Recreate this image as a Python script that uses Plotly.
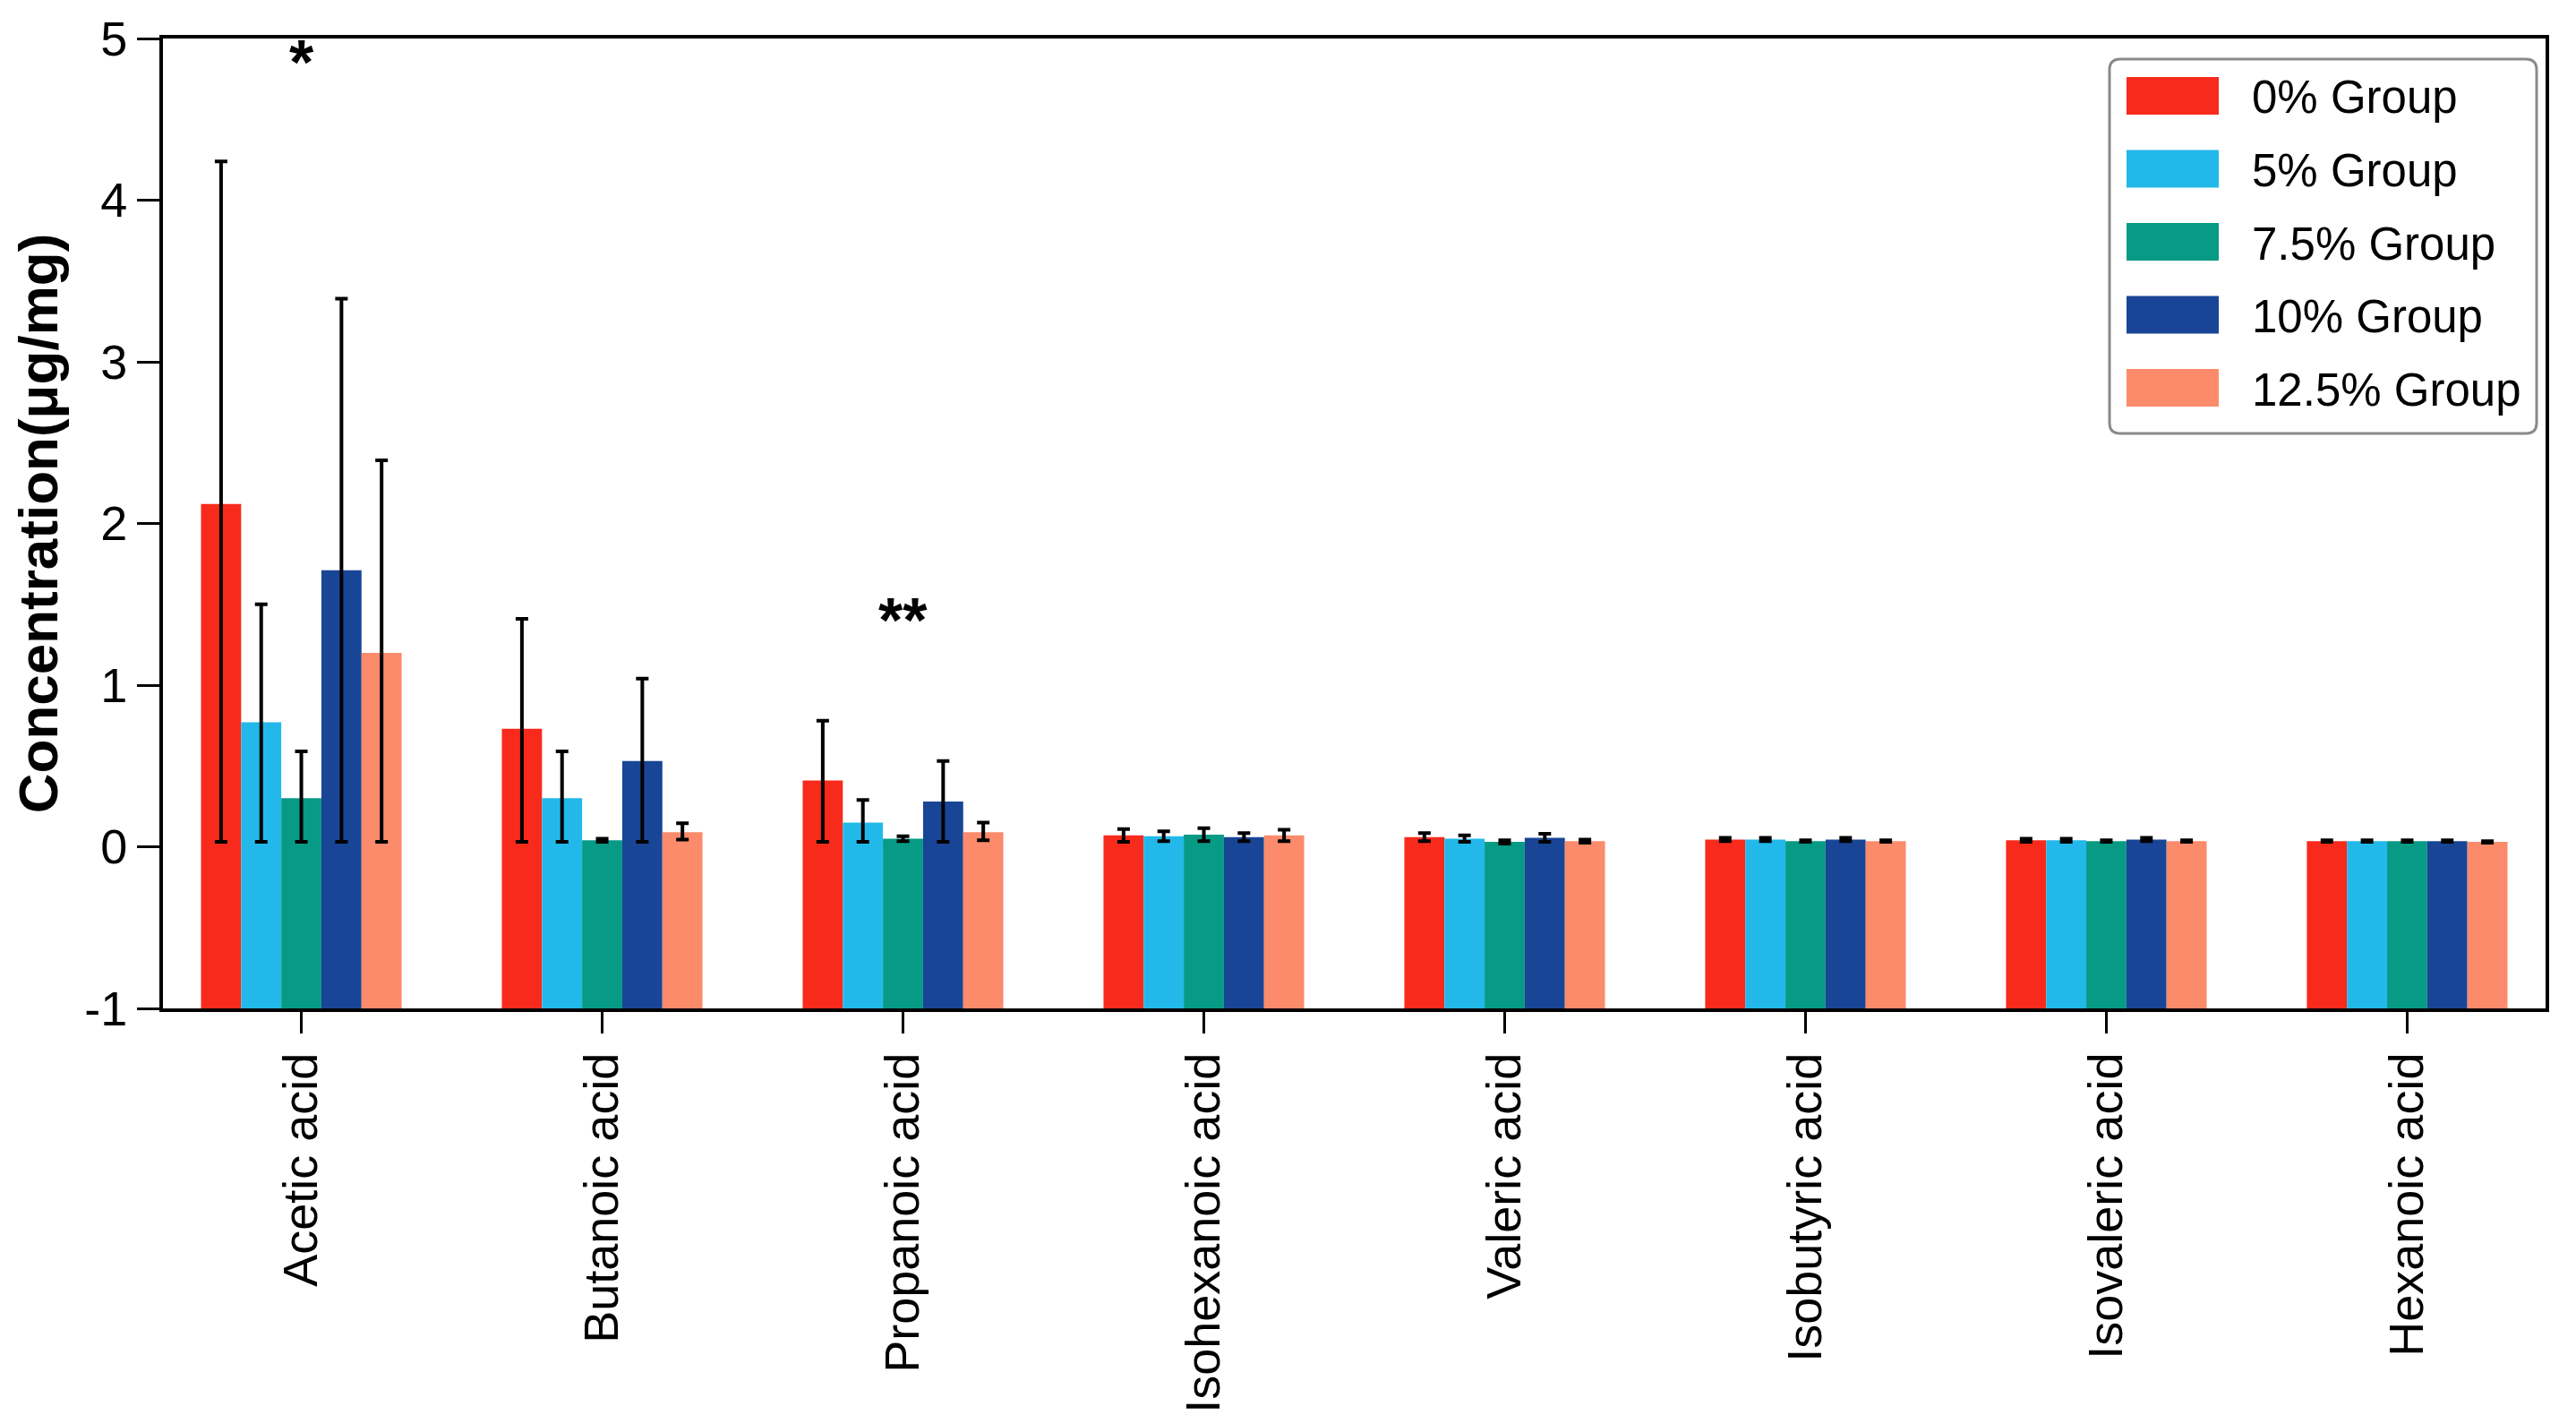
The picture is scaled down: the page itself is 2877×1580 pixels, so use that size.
import plotly.graph_objects as go

categories = ["Acetic acid", "Butanoic acid", "Propanoic acid", "Isohexanoic acid",
              "Valeric acid", "Isobutyric acid", "Isovaleric acid", "Hexanoic acid"]
groups = ["0% Group", "5% Group", "7.5% Group", "10% Group", "12.5% Group"]
colors = ["#F82A1C", "#22B9EA", "#079A85", "#194596", "#FC8B6B"]

vals_0 = [2.12, 0.73, 0.41, 0.07, 0.06, 0.045, 0.04, 0.035]
up_0 = [2.12, 0.68, 0.37, 0.04, 0.025, 0.01, 0.01, 0.005]
lo_0 = [2.09, 0.70, 0.38, 0.04, 0.025, 0.01, 0.01, 0.005]

vals_5 = [0.77, 0.30, 0.15, 0.065, 0.05, 0.045, 0.04, 0.035]
up_5 = [0.73, 0.29, 0.14, 0.03, 0.02, 0.01, 0.01, 0.005]
lo_5 = [0.74, 0.27, 0.12, 0.03, 0.02, 0.01, 0.01, 0.005]

vals_75 = [0.30, 0.04, 0.05, 0.075, 0.03, 0.035, 0.035, 0.035]
up_75 = [0.29, 0.01, 0.015, 0.04, 0.01, 0.005, 0.005, 0.005]
lo_75 = [0.27, 0.01, 0.015, 0.04, 0.01, 0.005, 0.005, 0.005]

vals_10 = [1.71, 0.53, 0.28, 0.06, 0.055, 0.045, 0.045, 0.035]
up_10 = [1.68, 0.51, 0.25, 0.025, 0.025, 0.01, 0.01, 0.005]
lo_10 = [1.68, 0.50, 0.25, 0.025, 0.025, 0.01, 0.01, 0.005]

vals_125 = [1.20, 0.09, 0.09, 0.07, 0.035, 0.035, 0.035, 0.03]
up_125 = [1.19, 0.055, 0.06, 0.035, 0.01, 0.005, 0.005, 0.005]
lo_125 = [1.17, 0.045, 0.05, 0.035, 0.01, 0.005, 0.005, 0.005]

sig_labels = ["*", "**"]
sig_cats = ["Acetic acid", "Propanoic acid"]
sig_y = [4.85, 1.40]

y_ticks = [-1, 0, 1, 2, 3, 4, 5]
bar_base = -1  # bars are drawn up from the bottom of the axis

series_vals = [vals_0, vals_5, vals_75, vals_10, vals_125]
series_up = [up_0, up_5, up_75, up_10, up_125]
series_lo = [lo_0, lo_5, lo_75, lo_10, lo_125]

FONT = "Liberation Sans, Arial, sans-serif"
W, H = 2877, 1580
ML, MR, MT, MB = 174, 42, 35, 462
PW, PH = W - ML - MR, H - MT - MB

fig = go.Figure()
for name, col, v, u, l in zip(groups, colors, series_vals, series_up, series_lo):
    fig.add_trace(go.Bar(
        x=categories, y=[val - bar_base for val in v], base=bar_base, name=name,
        customdata=v, hovertemplate="%{x}: %{customdata}<extra>" + name + "</extra>",
        marker=dict(color=col, line=dict(width=0)),
        error_y=dict(type="data", symmetric=False, array=u, arrayminus=l,
                     color="black", thickness=4, width=7),
        showlegend=False,
    ))

for lab, c, yv in zip(sig_labels, sig_cats, sig_y):
    fig.add_annotation(x=c, y=yv, xref="x", yref="y", text="<b>" + lab + "</b>", showarrow=False,
                       font=dict(family=FONT, size=70, color="black"), yanchor="middle")

# custom legend (pixel layout converted to paper coordinates)
def px_x(px):
    return (px - ML) / PW

def px_y(py):
    return (H - MB - py) / PH

bx1 = W - MR - 10
bx0 = bx1 - 477
by0, by1, r = 58, 476, 12
path = (f"M {px_x(bx0 + r)},{px_y(by0)} L {px_x(bx1 - r)},{px_y(by0)} "
        f"Q {px_x(bx1)},{px_y(by0)} {px_x(bx1)},{px_y(by0 + r)} "
        f"L {px_x(bx1)},{px_y(by1 - r)} Q {px_x(bx1)},{px_y(by1)} {px_x(bx1 - r)},{px_y(by1)} "
        f"L {px_x(bx0 + r)},{px_y(by1)} Q {px_x(bx0)},{px_y(by1)} {px_x(bx0)},{px_y(by1 - r)} "
        f"L {px_x(bx0)},{px_y(by0 + r)} Q {px_x(bx0)},{px_y(by0)} {px_x(bx0 + r)},{px_y(by0)} Z")
fig.add_shape(type="path", path=path, xref="paper", yref="paper",
              line=dict(color="#8a8a8a", width=3), fillcolor="white", layer="above")
row0, dy = 99, 81.5
for i, (name, col) in enumerate(zip(groups, colors)):
    cy = row0 + i * dy
    fig.add_shape(type="rect", xref="paper", yref="paper",
                  x0=px_x(bx0 + 19), x1=px_x(bx0 + 122), y0=px_y(cy - 21), y1=px_y(cy + 21),
                  fillcolor=col, line=dict(width=0), layer="above")
    fig.add_annotation(x=px_x(bx0 + 157), y=px_y(cy + 2), xref="paper", yref="paper",
                       text=name, showarrow=False, xanchor="left", yanchor="middle",
                       font=dict(family=FONT, size=51, color="black"))

fig.update_layout(
    width=W, height=H,
    margin=dict(l=ML, r=MR, t=MT, b=MB),
    paper_bgcolor="white", plot_bgcolor="white",
    barmode="group", bargap=0.333, bargroupgap=0,
    font=dict(family=FONT, color="black"),
)
fig.update_xaxes(
    range=[-0.46, 7.46], tickangle=-90, ticks="outside", ticklen=24, tickwidth=3,
    tickcolor="black", showline=True, linecolor="black", linewidth=4, mirror=True,
    tickfont=dict(family=FONT, size=54, color="black"), showgrid=False, automargin=False,
)
fig.update_yaxes(
    range=[-1, 5], tickvals=y_ticks, ticktext=[str(t) for t in y_ticks],
    ticks="outside", ticklen=25, tickwidth=3, tickcolor="black",
    showline=True, linecolor="black", linewidth=4, mirror=True,
    tickfont=dict(family=FONT, size=54, color="black"), showgrid=False, zeroline=False,
    title=dict(text="<b>Concentration(μg/mg)</b>", font=dict(family=FONT, size=62, color="black"),
               standoff=20),
    automargin=False,
)

fig.write_html("out.html")
